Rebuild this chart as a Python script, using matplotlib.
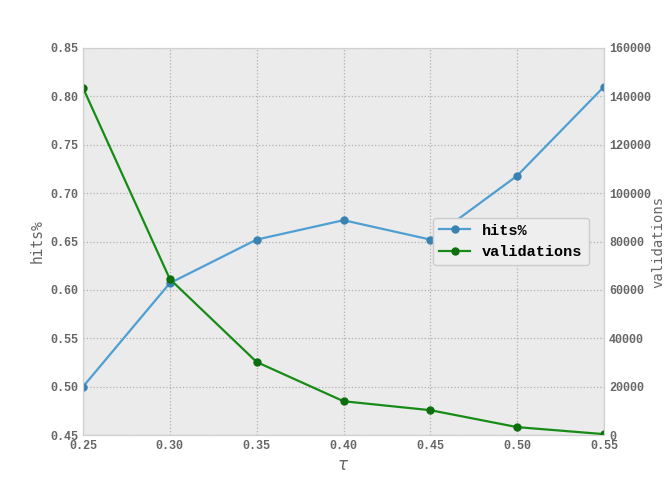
import matplotlib
matplotlib.use("Agg")
import matplotlib.pyplot as plt

tau = [0.25, 0.30, 0.35, 0.40, 0.45, 0.50, 0.55]
hits = [0.500, 0.607, 0.652, 0.672, 0.652, 0.718, 0.810]
validations = [143500, 64500, 30200, 14000, 10300, 3300, 400]

plt.rcParams['font.family'] = ['DejaVu Sans Mono']
grey = '#666666'

fig = plt.figure(figsize=(6.66, 4.84), dpi=100)
ax = fig.add_axes([0.1246, 0.101, 0.7824, 0.80])
ax.set_facecolor('#ebebeb')
ax2 = ax.twinx()

l1, = ax.plot(tau, hits, color='#4f9fd2', marker='o', markersize=5,
              markerfacecolor='#3a82b0', markeredgecolor='#3a82b0', lw=1.6, label='hits%')
l2, = ax2.plot(tau, validations, color='#168c16', marker='o', markersize=5,
               markerfacecolor='#0d6e0d', markeredgecolor='#0d6e0d', lw=1.6, label='validations')

ax.set_xlim(0.25, 0.55)
ax.set_ylim(0.45, 0.85)
ax2.set_ylim(0, 160000)
ax.set_xticks(tau)
ax.set_xticklabels([f"{t:.2f}" for t in tau])
ax.set_yticks([0.45 + 0.05 * i for i in range(9)])
ax.set_yticklabels([f"{0.45 + 0.05 * i:.2f}" for i in range(9)])
ax2.set_yticks(range(0, 160001, 20000))

ax.grid(True, color='#b0b0b0', linestyle=':', lw=0.9)
for a in (ax, ax2):
  a.tick_params(colors=grey, labelsize=8.5, length=0, pad=3.5)
  for lab in a.get_xticklabels() + a.get_yticklabels():
    lab.set_family('Liberation Mono')
    lab.set_weight('bold')
  for s in a.spines.values():
    s.set_color('#d0d0d0')

ax.set_xlabel(r'$\tau$', color=grey, fontsize=12, labelpad=3)
ax.set_ylabel('hits%', color=grey, fontsize=10.5, labelpad=4)
ax2.set_ylabel('validations', color=grey, fontsize=10, labelpad=0)

leg = ax2.legend([l1, l2], ['hits%', 'validations'], loc='center right',
                 bbox_to_anchor=(0.985, 0.50),
                 prop={'family': 'Liberation Mono', 'weight': 'bold', 'size': 11},
                 framealpha=1.0, facecolor='#eeeeee', edgecolor='#cccccc', fancybox=True)

fig.savefig('out.png', dpi=100)
